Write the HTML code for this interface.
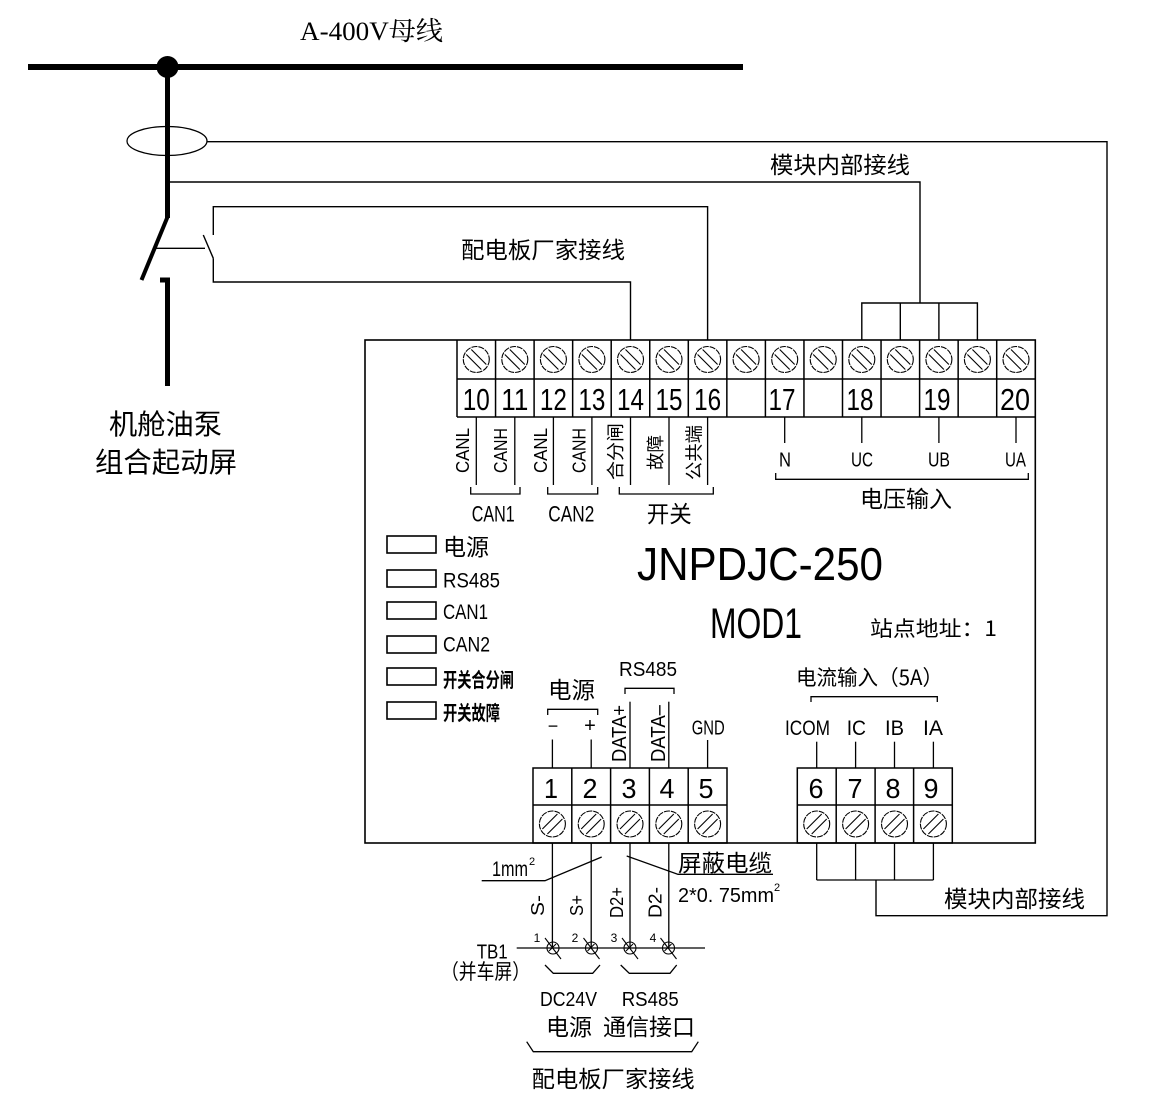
<!DOCTYPE html>
<html><head><meta charset="utf-8">
<style>
html,body{margin:0;padding:0;background:#fff;}
svg{display:block;}
text{font-family:"Liberation Sans","Noto Sans CJK SC",sans-serif;fill:#000;}
.cj{font-family:"Noto Sans CJK SC","Liberation Sans",sans-serif;}
.sf{font-family:"Liberation Serif","Noto Serif CJK SC",serif;}
</style></head><body>
<svg width="1159" height="1116" viewBox="0 0 1159 1116" xmlns="http://www.w3.org/2000/svg">
<rect width="1159" height="1116" fill="#fff"/>

<!-- title -->
<text class="sf" x="300" y="40" font-size="26" textLength="143" lengthAdjust="spacingAndGlyphs">A-400V母线</text>

<!-- busbar -->
<line x1="28" y1="67" x2="743" y2="67" stroke="#000" stroke-width="6"/>
<circle cx="167.5" cy="67" r="11" fill="#000"/>
<line x1="167.5" y1="67" x2="167.5" y2="218" stroke="#000" stroke-width="5"/>
<line x1="167.5" y1="217" x2="141.5" y2="280" stroke="#000" stroke-width="4"/>
<path d="M160,280 L167.5,280 L167.5,386" fill="none" stroke="#000" stroke-width="5"/>

<!-- CT ellipse -->
<ellipse cx="167" cy="141" rx="40" ry="14.5" fill="none" stroke="#000" stroke-width="1.3"/>

<g fill="none" stroke="#000" stroke-width="1.4">
<polyline points="207,141.7 1107,141.7 1107,915.7 876,915.7 876,880"/>
<polyline points="169,182 920,182 920,303"/>
<polyline points="861.8,340 861.8,303 977.4,303 977.4,340"/>
<line x1="900.3" y1="303" x2="900.3" y2="340"/>
<line x1="938.9" y1="303" x2="938.9" y2="340"/>
<line x1="155" y1="248.3" x2="205" y2="248.3"/>
<line x1="203.3" y1="235" x2="213.3" y2="258.3"/>
<polyline points="213.3,235 213.3,206.7 707.6,206.7 707.6,340"/>
<polyline points="213.3,258.3 213.3,282 630.5,282 630.5,340"/>
</g>

<text class="cj" x="109" y="434" font-size="28" textLength="113" lengthAdjust="spacingAndGlyphs">机舱油泵</text>
<text class="cj" x="95" y="472" font-size="28" textLength="142" lengthAdjust="spacingAndGlyphs">组合起动屏</text>

<text class="cj" x="770" y="173" font-size="23" textLength="140" lengthAdjust="spacingAndGlyphs">模块内部接线</text>
<text class="cj" x="461" y="258" font-size="23" textLength="164" lengthAdjust="spacingAndGlyphs">配电板厂家接线</text>

<rect x="365" y="340" width="670.3" height="503" fill="none" stroke="#000" stroke-width="1.6"/>

<g fill="none" stroke="#000" stroke-width="1.5">
<line x1="457" y1="379" x2="1035.3" y2="379"/>
<line x1="457" y1="417" x2="1035.3" y2="417"/>
<line x1="457" y1="340" x2="457" y2="417"/>
<line x1="495.55" y1="340" x2="495.55" y2="417"/>
<line x1="534.1" y1="340" x2="534.1" y2="417"/>
<line x1="572.65" y1="340" x2="572.65" y2="417"/>
<line x1="611.2" y1="340" x2="611.2" y2="417"/>
<line x1="649.75" y1="340" x2="649.75" y2="417"/>
<line x1="688.3" y1="340" x2="688.3" y2="417"/>
<line x1="726.85" y1="340" x2="726.85" y2="417"/>
<line x1="765.4" y1="340" x2="765.4" y2="417"/>
<line x1="803.95" y1="340" x2="803.95" y2="417"/>
<line x1="842.5" y1="340" x2="842.5" y2="417"/>
<line x1="881.05" y1="340" x2="881.05" y2="417"/>
<line x1="919.6" y1="340" x2="919.6" y2="417"/>
<line x1="958.15" y1="340" x2="958.15" y2="417"/>
<line x1="996.7" y1="340" x2="996.7" y2="417"/>
</g>
<defs>
<g id="scrA" fill="none" stroke="#000" stroke-width="1.1">
<circle cx="0" cy="0" r="13" stroke-dasharray="6,1"/>
<line x1="-10" y1="-5" x2="5" y2="10"/>
<line x1="-5" y1="-10" x2="10" y2="5"/>
</g>
<g id="scrB" fill="none" stroke="#000" stroke-width="1.1">
<circle cx="0" cy="0" r="13" stroke-dasharray="6,1"/>
<line x1="-10" y1="5" x2="5" y2="-10"/>
<line x1="-5" y1="10" x2="10" y2="-5"/>
</g>
<g id="tb" fill="none" stroke="#000" stroke-width="1.1">
<circle cx="0" cy="0" r="6"/>
<line x1="-8" y1="-10" x2="8" y2="11"/>
<line x1="-4" y1="3" x2="3" y2="-4"/>
</g>
</defs>
<use href="#scrA" x="476.3" y="359.5"/>
<use href="#scrA" x="514.8" y="359.5"/>
<use href="#scrA" x="553.4" y="359.5"/>
<use href="#scrA" x="591.9" y="359.5"/>
<use href="#scrA" x="630.5" y="359.5"/>
<use href="#scrA" x="669" y="359.5"/>
<use href="#scrA" x="707.6" y="359.5"/>
<use href="#scrA" x="746.1" y="359.5"/>
<use href="#scrA" x="784.7" y="359.5"/>
<use href="#scrA" x="823.2" y="359.5"/>
<use href="#scrA" x="861.8" y="359.5"/>
<use href="#scrA" x="900.3" y="359.5"/>
<use href="#scrA" x="938.9" y="359.5"/>
<use href="#scrA" x="977.4" y="359.5"/>
<use href="#scrA" x="1016" y="359.5"/>

<g font-size="31" text-anchor="middle">
<text x="476.3" y="410" textLength="27" lengthAdjust="spacingAndGlyphs">10</text>
<text x="514.8" y="410" textLength="27" lengthAdjust="spacingAndGlyphs">11</text>
<text x="553.4" y="410" textLength="27" lengthAdjust="spacingAndGlyphs">12</text>
<text x="591.9" y="410" textLength="27" lengthAdjust="spacingAndGlyphs">13</text>
<text x="630.5" y="410" textLength="27" lengthAdjust="spacingAndGlyphs">14</text>
<text x="669" y="410" textLength="27" lengthAdjust="spacingAndGlyphs">15</text>
<text x="707.6" y="410" textLength="27" lengthAdjust="spacingAndGlyphs">16</text>
<text x="782" y="410" textLength="27" lengthAdjust="spacingAndGlyphs">17</text>
<text x="860" y="410" textLength="27" lengthAdjust="spacingAndGlyphs">18</text>
<text x="937" y="410" textLength="27" lengthAdjust="spacingAndGlyphs">19</text>
<text x="1015" y="410" textLength="30" lengthAdjust="spacingAndGlyphs">20</text>
</g>

<g stroke="#000" stroke-width="1.3" fill="none">
<line x1="476.3" y1="417" x2="476.3" y2="485"/>
<line x1="514.8" y1="417" x2="514.8" y2="485"/>
<line x1="553.4" y1="417" x2="553.4" y2="485"/>
<line x1="591.9" y1="417" x2="591.9" y2="485"/>
<line x1="630.5" y1="417" x2="630.5" y2="485"/>
<line x1="669" y1="417" x2="669" y2="485"/>
<line x1="707.6" y1="417" x2="707.6" y2="485"/>
<polyline points="470.7,487 470.7,494 520,494 520,487"/>
<polyline points="547.7,487 547.7,494 597.7,494 597.7,487"/>
<polyline points="619.3,487 619.3,494 713.3,494 713.3,487"/>
<line x1="784.7" y1="417" x2="784.7" y2="443"/>
<line x1="861.8" y1="417" x2="861.8" y2="443"/>
<line x1="938.9" y1="417" x2="938.9" y2="443"/>
<line x1="1016" y1="417" x2="1016" y2="443"/>
<polyline points="775.7,473 775.7,479.3 1028.3,479.3 1028.3,473"/>
</g>

<g font-size="18" text-anchor="middle">
<text transform="translate(469,450.5) rotate(-90)" textLength="45" lengthAdjust="spacingAndGlyphs">CANL</text>
<text transform="translate(507,450.5) rotate(-90)" textLength="45" lengthAdjust="spacingAndGlyphs">CANH</text>
<text transform="translate(547,450.5) rotate(-90)" textLength="45" lengthAdjust="spacingAndGlyphs">CANL</text>
<text transform="translate(585.5,450.5) rotate(-90)" textLength="45" lengthAdjust="spacingAndGlyphs">CANH</text>
<text class="cj" transform="translate(622,451.5) rotate(-90)" textLength="57" lengthAdjust="spacingAndGlyphs">合分闸</text>
<text class="cj" transform="translate(662,452.5) rotate(-90)" textLength="35" lengthAdjust="spacingAndGlyphs">故障</text>
<text class="cj" transform="translate(700.5,452.5) rotate(-90)" textLength="55" lengthAdjust="spacingAndGlyphs">公共端</text>
</g>

<text x="471.7" y="521.7" font-size="22" textLength="43" lengthAdjust="spacingAndGlyphs">CAN1</text>
<text x="548.3" y="521.7" font-size="22" textLength="46" lengthAdjust="spacingAndGlyphs">CAN2</text>
<text class="cj" x="646.7" y="522" font-size="23" textLength="45" lengthAdjust="spacingAndGlyphs">开关</text>

<g font-size="20" text-anchor="middle">
<text x="785" y="466.7" textLength="12" lengthAdjust="spacingAndGlyphs">N</text>
<text x="862" y="466.7" textLength="22" lengthAdjust="spacingAndGlyphs">UC</text>
<text x="939" y="466.7" textLength="22" lengthAdjust="spacingAndGlyphs">UB</text>
<text x="1015.5" y="466.7" textLength="21" lengthAdjust="spacingAndGlyphs">UA</text>
</g>
<text class="cj" x="860" y="507" font-size="23" textLength="92" lengthAdjust="spacingAndGlyphs">电压输入</text>

<g fill="none" stroke="#000" stroke-width="1.6">
<rect x="387" y="536" width="49" height="17"/>
<rect x="387" y="570" width="49" height="17"/>
<rect x="387" y="602" width="49" height="17"/>
<rect x="387" y="636" width="49" height="17"/>
<rect x="387" y="668" width="49" height="17"/>
<rect x="387" y="702" width="49" height="17"/>
</g>
<text class="cj" x="443" y="555" font-size="23" textLength="46" lengthAdjust="spacingAndGlyphs">电源</text>
<text x="443" y="587.7" font-size="21" textLength="57" lengthAdjust="spacingAndGlyphs">RS485</text>
<text x="443" y="619" font-size="21" textLength="45" lengthAdjust="spacingAndGlyphs">CAN1</text>
<text x="443" y="651.7" font-size="21" textLength="47" lengthAdjust="spacingAndGlyphs">CAN2</text>
<text class="cj" x="443" y="687" font-size="20" font-weight="bold" textLength="71" lengthAdjust="spacingAndGlyphs">开关合分闸</text>
<text class="cj" x="443" y="720" font-size="20" font-weight="bold" textLength="57" lengthAdjust="spacingAndGlyphs">开关故障</text>

<text x="637" y="580" font-size="46" textLength="246" lengthAdjust="spacingAndGlyphs">JNPDJC-250</text>
<text x="710" y="638" font-size="43" textLength="92" lengthAdjust="spacingAndGlyphs">MOD1</text>
<text class="cj" x="870" y="636" font-size="21" textLength="127" lengthAdjust="spacingAndGlyphs">站点地址：1</text>

<text x="619" y="676" font-size="20" textLength="58" lengthAdjust="spacingAndGlyphs">RS485</text>
<text class="cj" x="548" y="698" font-size="23" textLength="47" lengthAdjust="spacingAndGlyphs">电源</text>
<text x="553" y="732" font-size="18" text-anchor="middle">−</text>
<text x="590" y="732" font-size="20" text-anchor="middle">+</text>
<text x="691.7" y="734.3" font-size="20" textLength="33" lengthAdjust="spacingAndGlyphs">GND</text>
<text transform="translate(626,733.5) rotate(-90)" font-size="20" text-anchor="middle" textLength="57" lengthAdjust="spacingAndGlyphs">DATA+</text>
<text transform="translate(665,733.5) rotate(-90)" font-size="20" text-anchor="middle" textLength="57" lengthAdjust="spacingAndGlyphs">DATA–</text>

<g stroke="#000" stroke-width="1.3" fill="none">
<polyline points="547.7,715 547.7,709.3 597.7,709.3 597.7,715"/>
<polyline points="625,694 625,688.3 674,688.3 674,694"/>
<line x1="552.4" y1="739.5" x2="552.4" y2="768"/>
<line x1="591.2" y1="739.5" x2="591.2" y2="768"/>
<line x1="630" y1="701.7" x2="630" y2="768"/>
<line x1="668.8" y1="701.7" x2="668.8" y2="768"/>
<line x1="707.6" y1="740" x2="707.6" y2="768"/>
</g>
<g fill="none" stroke="#000" stroke-width="1.5">
<rect x="533" y="768" width="194" height="75"/>
<line x1="533" y1="805" x2="727" y2="805"/>
<line x1="571.8" y1="768" x2="571.8" y2="843"/>
<line x1="610.6" y1="768" x2="610.6" y2="843"/>
<line x1="649.4" y1="768" x2="649.4" y2="843"/>
<line x1="688.2" y1="768" x2="688.2" y2="843"/>
</g>
<g font-size="28" text-anchor="middle">
<text x="551" y="798" textLength="14" lengthAdjust="spacingAndGlyphs">1</text>
<text x="590" y="798" textLength="15" lengthAdjust="spacingAndGlyphs">2</text>
<text x="629" y="798" textLength="15" lengthAdjust="spacingAndGlyphs">3</text>
<text x="667" y="798" textLength="15" lengthAdjust="spacingAndGlyphs">4</text>
<text x="706" y="798" textLength="15" lengthAdjust="spacingAndGlyphs">5</text>
</g>
<use href="#scrB" x="552.4" y="824"/>
<use href="#scrB" x="591.2" y="824"/>
<use href="#scrB" x="630" y="824"/>
<use href="#scrB" x="668.8" y="824"/>
<use href="#scrB" x="707.6" y="824"/>

<text class="cj" x="796" y="685" font-size="21" textLength="147" lengthAdjust="spacingAndGlyphs">电流输入（5A）</text>
<g font-size="21">
<text x="785" y="735" textLength="45" lengthAdjust="spacingAndGlyphs">ICOM</text>
<text x="846.7" y="735" textLength="19.3" lengthAdjust="spacingAndGlyphs">IC</text>
<text x="885" y="735" textLength="19" lengthAdjust="spacingAndGlyphs">IB</text>
<text x="923" y="735" textLength="20" lengthAdjust="spacingAndGlyphs">IA</text>
</g>
<g stroke="#000" stroke-width="1.3" fill="none">
<polyline points="811,702 811,696.7 937.3,696.7 937.3,702"/>
<line x1="816.7" y1="741.7" x2="816.7" y2="768"/>
<line x1="855.6" y1="741.7" x2="855.6" y2="768"/>
<line x1="894.5" y1="741.7" x2="894.5" y2="768"/>
<line x1="933.4" y1="741.7" x2="933.4" y2="768"/>
<line x1="816.7" y1="843" x2="816.7" y2="880"/>
<line x1="855.6" y1="843" x2="855.6" y2="880"/>
<line x1="894.5" y1="843" x2="894.5" y2="880"/>
<line x1="933.4" y1="843" x2="933.4" y2="880"/>
<line x1="816.7" y1="880" x2="933.4" y2="880"/>
</g>
<g fill="none" stroke="#000" stroke-width="1.5">
<rect x="797.3" y="768" width="155" height="75"/>
<line x1="797.3" y1="805" x2="952.3" y2="805"/>
<line x1="836.2" y1="768" x2="836.2" y2="843"/>
<line x1="875.1" y1="768" x2="875.1" y2="843"/>
<line x1="913.6" y1="768" x2="913.6" y2="843"/>
</g>
<g font-size="28" text-anchor="middle">
<text x="816" y="798" textLength="15" lengthAdjust="spacingAndGlyphs">6</text>
<text x="855" y="798" textLength="15" lengthAdjust="spacingAndGlyphs">7</text>
<text x="893" y="798" textLength="15" lengthAdjust="spacingAndGlyphs">8</text>
<text x="931" y="798" textLength="15" lengthAdjust="spacingAndGlyphs">9</text>
</g>
<use href="#scrB" x="816.7" y="824"/>
<use href="#scrB" x="855.6" y="824"/>
<use href="#scrB" x="894.5" y="824"/>
<use href="#scrB" x="933.4" y="824"/>

<text class="cj" x="944" y="907" font-size="23" textLength="141" lengthAdjust="spacingAndGlyphs">模块内部接线</text>

<g stroke="#000" stroke-width="1.3" fill="none">
<line x1="552.4" y1="843" x2="552.4" y2="948"/>
<line x1="591.2" y1="843" x2="591.2" y2="948"/>
<line x1="630" y1="843" x2="630" y2="948"/>
<line x1="668.8" y1="843" x2="668.8" y2="948"/>
<polyline points="481.7,880.7 545,880.7 601.7,857"/>
<polyline points="626.7,856 678,874.3 773,874.3"/>
<line x1="516.7" y1="948" x2="705" y2="948"/>
<polyline points="545,965 553.3,973.3 592.7,973.3 600,965"/>
<polyline points="620.7,965 629.3,973.3 670,973.3 676.7,965"/>
<polyline points="526.7,1041.7 533.3,1051.7 691.7,1051.7 698.3,1041.7"/>
</g>
<g fill="#fff">
<use href="#tb" x="553" y="948"/>
<use href="#tb" x="591.5" y="948"/>
<use href="#tb" x="630" y="948"/>
<use href="#tb" x="668.5" y="948"/>
</g>
<g font-size="12" text-anchor="middle">
<text x="537" y="942">1</text>
<text x="575" y="942">2</text>
<text x="614" y="942">3</text>
<text x="653" y="942">4</text>
</g>
<text x="492" y="876" font-size="21" textLength="36" lengthAdjust="spacingAndGlyphs">1mm</text>
<text x="529" y="865" font-size="11">2</text>
<text class="cj" x="678" y="871" font-size="23" textLength="94" lengthAdjust="spacingAndGlyphs">屏蔽电缆</text>
<text x="678" y="902" font-size="20" textLength="96" lengthAdjust="spacingAndGlyphs">2*0. 75mm</text>
<text x="774" y="891" font-size="11">2</text>

<g font-size="18" text-anchor="middle">
<text transform="translate(544,905.5) rotate(-90)" textLength="21" lengthAdjust="spacingAndGlyphs">S-</text>
<text transform="translate(583,905.5) rotate(-90)" textLength="21" lengthAdjust="spacingAndGlyphs">S+</text>
<text transform="translate(623,902.5) rotate(-90)" textLength="31" lengthAdjust="spacingAndGlyphs">D2+</text>
<text transform="translate(661.5,902.5) rotate(-90)" textLength="31" lengthAdjust="spacingAndGlyphs">D2-</text>
</g>

<text x="476.7" y="958.5" font-size="20" textLength="31" lengthAdjust="spacingAndGlyphs">TB1</text>
<text class="cj" x="441" y="979" font-size="21" textLength="89" lengthAdjust="spacingAndGlyphs">（并车屏）</text>

<text x="540" y="1006" font-size="20" textLength="57" lengthAdjust="spacingAndGlyphs">DC24V</text>
<text x="621.7" y="1006" font-size="20" textLength="57" lengthAdjust="spacingAndGlyphs">RS485</text>
<text class="cj" x="546" y="1035" font-size="23" textLength="46" lengthAdjust="spacingAndGlyphs">电源</text>
<text class="cj" x="603" y="1035" font-size="23" textLength="92" lengthAdjust="spacingAndGlyphs">通信接口</text>
<text class="cj" x="531.7" y="1087" font-size="23" textLength="163" lengthAdjust="spacingAndGlyphs">配电板厂家接线</text>
</svg>
</body></html>
